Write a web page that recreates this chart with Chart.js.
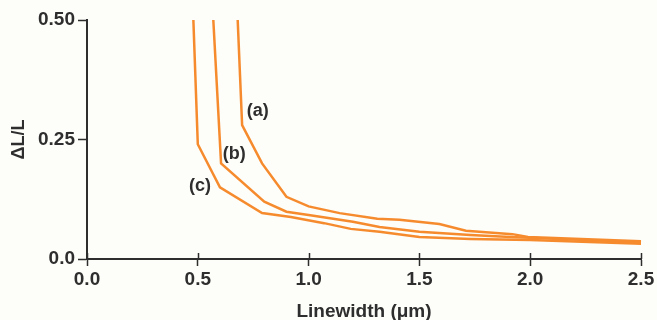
<!DOCTYPE html>
<html>
<head>
<meta charset="utf-8">
<script src="https://cdn.jsdelivr.net/npm/chart.js@4/dist/chart.umd.min.js"></script>
<style>
  html, body { margin: 0; padding: 0; background: #fdfdf9; }
  #wrap { width: 657px; height: 320px; }
</style>
</head>
<body>
<div id="wrap"><canvas id="chart" width="657" height="320"></canvas></div>
<script>
// 곡선 데이터
var widthA = [0.68, 0.70, 0.79, 0.90, 1.0, 1.14, 1.31, 1.41, 1.59, 1.71, 1.92, 1.99, 2.5];
var dlA = [0.50, 0.28, 0.20, 0.13, 0.11, 0.096, 0.084, 0.082, 0.073, 0.059, 0.052, 0.046, 0.037];
var widthB = [0.57, 0.605, 0.80, 0.90, 1.0, 1.20, 1.32, 1.50, 1.73, 1.91, 2.5];
var dlB = [0.50, 0.20, 0.12, 0.099, 0.092, 0.078, 0.067, 0.057, 0.050, 0.046, 0.035];
var widthC = [0.48, 0.50, 0.60, 0.79, 0.92, 1.07, 1.19, 1.32, 1.50, 1.73, 2.0, 2.5];
var dlC = [0.50, 0.24, 0.15, 0.096, 0.088, 0.075, 0.063, 0.057, 0.046, 0.042, 0.040, 0.032];

var curveNames = ["(a)", "(b)", "(c)"];
// 곡선 이름 위치 (데이터 좌표)
var nameX = [0.77, 0.665, 0.51];
var nameY = [0.31, 0.22, 0.153];

var xTicks = [0, 0.5, 1.0, 1.5, 2.0, 2.5];
var yTicks = [0, 0.25, 0.5];
var yTickLabels = ["0.0", "0.25", "0.50"];

var orange = "#f68b2e";
var ink = "#2e2e2e";
var font = "'Liberation Sans', Arial, sans-serif";

function toPoints(xs, ys) {
  return xs.map((x, i) => ({ x: x, y: ys[i] }));
}

// x 눈금을 축 위쪽으로도 그리고, 곡선 이름 표시
var extrasPlugin = {
  id: "extras",
  afterDraw(chart) {
    var ctx = chart.ctx;
    var xs = chart.scales.x;
    var ys = chart.scales.y;
    ctx.save();
    ctx.strokeStyle = ink;
    ctx.lineWidth = 1.5;
    xTicks.forEach((v) => {
      var px = Math.round(xs.getPixelForValue(v)) + 0.5;
      ctx.beginPath();
      ctx.moveTo(px, ys.bottom);
      ctx.lineTo(px, ys.bottom - 6);
      ctx.stroke();
    });
    ctx.fillStyle = ink;
    ctx.font = "bold 18px " + font;
    ctx.textAlign = "center";
    ctx.textBaseline = "middle";
    curveNames.forEach((name, i) => {
      ctx.fillText(name, xs.getPixelForValue(nameX[i]), ys.getPixelForValue(nameY[i]));
    });
    ctx.restore();
  },
};

var lineStyle = {
  borderColor: orange,
  borderWidth: 2.5,
  pointRadius: 0,
  tension: 0,
  fill: false,
};

new Chart(document.getElementById("chart"), {
  type: "line",
  data: {
    datasets: [
      Object.assign({ label: "a", data: toPoints(widthA, dlA) }, lineStyle),
      Object.assign({ label: "b", data: toPoints(widthB, dlB) }, lineStyle),
      Object.assign({ label: "c", data: toPoints(widthC, dlC) }, lineStyle),
    ],
  },
  options: {
    responsive: false,
    animation: false,
    clip: false,
    layout: { padding: { left: 0, right: 16, top: 20, bottom: 0 } },
    plugins: { legend: { display: false }, tooltip: { enabled: false } },
    scales: {
      x: {
        type: "linear",
        min: 0,
        max: 2.5,
        afterBuildTicks: (s) => { s.ticks = xTicks.map((v) => ({ value: v })); },
        afterFit: (s) => { s.height = 61; },
        border: { color: ink, width: 2 },
        grid: { drawOnChartArea: false, tickLength: 7, tickColor: ink, tickWidth: 1.5 },
        ticks: {
          color: ink,
          padding: 2,
          maxRotation: 0,
          font: { family: font, size: 19, weight: "bold" },
          callback: (v) => Number(v).toFixed(1),
        },
        title: {
          display: true,
          text: "Linewidth (\u03bcm)",
          color: ink,
          padding: { top: 0, bottom: 0 },
          font: { family: font, size: 19, weight: "bold", lineHeight: 0.9 },
        },
      },
      y: {
        type: "linear",
        min: 0,
        max: 0.5,
        afterBuildTicks: (s) => { s.ticks = yTicks.map((v) => ({ value: v })); },
        afterFit: (s) => { s.width = 87; },
        border: { color: ink, width: 2 },
        grid: { drawOnChartArea: false, tickLength: 9, tickColor: ink, tickWidth: 1.5 },
        ticks: {
          color: ink,
          padding: 3,
          font: { family: font, size: 19, weight: "bold" },
          callback: (v) => yTickLabels[yTicks.indexOf(v)],
        },
        title: {
          display: true,
          text: "\u0394L/L",
          color: ink,
          padding: { top: 8, bottom: 0 },
          font: { family: font, size: 18, weight: "bold" },
        },
      },
    },
  },
  plugins: [extrasPlugin],
});
</script>
</body>
</html>
